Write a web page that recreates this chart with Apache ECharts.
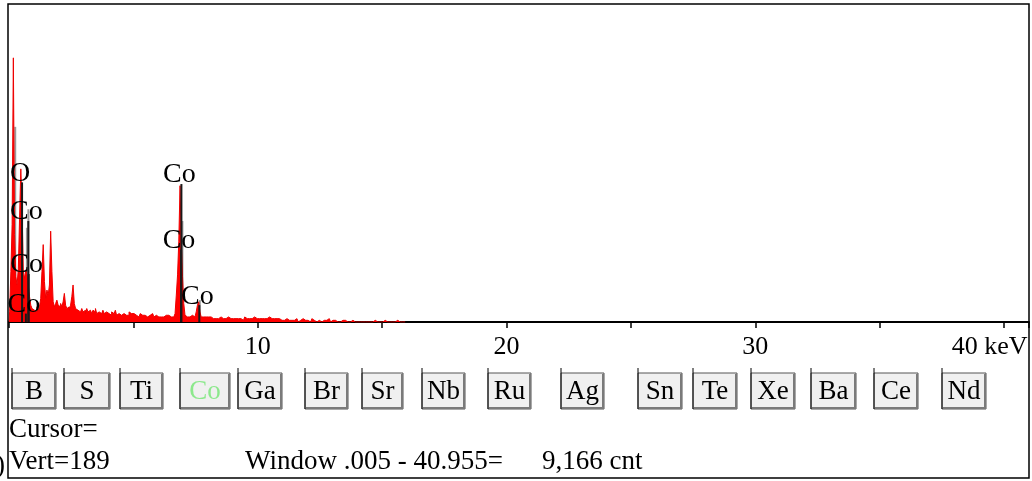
<!DOCTYPE html>
<html>
<head>
<meta charset="utf-8">
<script src="https://cdn.jsdelivr.net/npm/echarts@6/dist/echarts.min.js"></script>
<style>
html,body{margin:0;padding:0;background:#fff;}
#chart{width:1032px;height:481px;}
</style>
</head>
<body>
<div id="chart"></div>
<script>
// ---- spectrum: counts per 0.05 keV channel, starting at 0 keV ----
const channelKeV = 0.05;
const counts = [
  // 0.00 - 0.95
  0,6,30,58,157,52,27,22,32,62,91,68,30,26,31,28,22,15,10,8,
  // 1.00 - 1.95
  7,8,6,9,7,9,14,30,46,24,14,19,16,22,54,30,12,9,11,13,
  // 2.00 - 2.95
  10,9,11,9,12,17,10,8,9,7,10,15,22,11,8,7,8,6,7,8,
  // 3.00 - 3.95
  6,7,5,8,6,7,6,5,7,6,8,5,6,7,5,6,7,5,6,5,
  // 4.00 - 4.95
  5,6,4,6,5,5,7,4,5,6,4,5,5,6,4,5,4,6,5,4,
  // 5.00 - 5.95
  5,4,4,5,3,4,5,4,3,4,5,3,4,4,3,5,4,3,4,4,
  // 6.00 - 6.95
  3,4,3,4,3,3,4,3,4,3,3,4,3,4,5,16,28,48,81,48,
  // 7.00 - 7.95
  27,11,4,3,4,3,3,4,3,3,4,6,10,12,6,3,3,2,3,2,
  // 8.00 - 8.95
  3,2,3,2,2,3,2,3,2,2,3,2,2,3,2,2,3,2,2,3,
  // 9.00 - 9.95
  2,3,2,2,2,3,2,2,1,2,3,2,2,2,1,2,2,3,2,2,
  // 10.00 - 10.95
  2,2,3,2,2,2,1,2,2,3,2,2,1,2,2,2,1,2,2,1,
  // 11.00 - 11.95
  2,1,2,2,1,1,2,1,0,1,1,2,1,0,1,1,2,1,1,0,
  // 12.00 - 12.95
  1,1,0,1,2,1,1,0,1,1,1,0,1,1,0,1,1,2,1,0,
  // 13.00 - 13.95
  1,0,1,1,0,1,0,0,1,0,1,0,0,1,0,0,1,0,0,0,
  // 14.00 - 14.95
  0,1,0,0,0,1,0,0,0,1,0,0,0,0,1,0,0,0,0,0,
  // 15.00 - 15.95
  0,0,1,0,0,0,0,1,0,0,0,0,1,0,0,0,0,0,0,0
];

// ---- grey overlay spikes ----
const overlayKeV = [0.25, 0.72, 0.78, 6.97, 7.67];
const overlayCnt = [116, 56, 67, 60, 13];

// ---- element marker lines ----
const markerKeV  = [0.525, 0.776, 0.791, 0.678, 6.930, 6.915, 7.649];
const markerCnt  = [83, 60, 28.5, 5, 82, 43, 10];
const markerText = ['O', 'Co', 'Co', 'Co', 'Co', 'Co', 'Co'];

// ---- axis ----
const xMin = 0, xMax = 41, xStep = 5;
const yMax = 189;
const tickValues = [10, 20, 30, 40];
const tickText   = ['10', '20', '30', '40 keV'];

// ---- element buttons ----
const buttons = ['B','S','Ti','Co','Ga','Br','Sr','Nb','Ru','Ag','Sn','Te','Xe','Ba','Ce','Nd'];
const activeButton = 'Co';
const buttonLeft  = [12,64,120,180,238,305,362,422,488,561,638,693,751,811,874,942];
const buttonRight = [56,110,163,230,282,348,403,465,531,604,682,737,795,856,918,986];

// ---- status texts ----
const statusCursor = 'Cursor=';
const statusVert = 'Vert=189';
const statusWindow = 'Window .005 - 40.955=';
const statusCount = '9,166 cnt';

const FONT = '"Liberation Serif", "Times New Roman", serif';

const specData = counts.map((c, i) => [+(i * channelKeV).toFixed(3), c]);
const overlayData = overlayKeV.map((k, i) => [k, overlayCnt[i]]);
const markerData = markerKeV.map((k, i) => [k, markerCnt[i]]);

const graphics = [];
// frame
graphics.push({type:'rect', z:100, shape:{x:8, y:4, width:1021, height:474},
  style:{fill:'none', stroke:'#000', lineWidth:1.5}, silent:true});
// buttons
buttons.forEach((b, i) => {
  const x0 = buttonLeft[i], x1 = buttonRight[i];
  const top = 373, h = 36;
  graphics.push({type:'rect', shape:{x:x0, y:top, width:x1 - x0, height:h},
    style:{fill:'#f0f0f0', stroke:'#555', lineWidth:1}});
  graphics.push({type:'polyline', shape:{points:[[x1-1, top+1],[x1-1, top+h-1],[x0+1, top+h-1]]},
    style:{stroke:'#7a7a7a', lineWidth:2, fill:null}});
  graphics.push({type:'line', shape:{x1:x0, y1:top-5, x2:x0, y2:top+h},
    style:{stroke:'#000', lineWidth:1}});
  graphics.push({type:'text', x:(x0 + x1) / 2, y:top + h / 2 + 1,
    style:{text:b, font:'27px ' + FONT, fill: b === activeButton ? '#8ce88c' : '#000',
      align:'center', verticalAlign:'middle'}});
});
// status lines
graphics.push({type:'text', x:9, y:430, style:{text:statusCursor, font:'27px ' + FONT, fill:'#000', verticalAlign:'middle'}});
graphics.push({type:'text', x:9, y:462, style:{text:statusVert, font:'27px ' + FONT, fill:'#000', verticalAlign:'middle'}});
graphics.push({type:'text', x:245, y:462, style:{text:statusWindow, font:'27px ' + FONT, fill:'#000', verticalAlign:'middle'}});
graphics.push({type:'text', x:542, y:462, style:{text:statusCount, font:'27px ' + FONT, fill:'#000', verticalAlign:'middle'}});
graphics.push({type:'text', x:-4, y:466, style:{text:')', font:'27px ' + FONT, fill:'#000', verticalAlign:'middle'}});

const chart = echarts.init(document.getElementById('chart'), null, {renderer:'canvas'});
chart.setOption({
  animation:false,
  backgroundColor:'#fff',
  grid:{left:9, right:3, top:4, bottom:159},
  xAxis:{
    type:'value', min:xMin, max:xMax, interval:xStep,
    splitLine:{show:false},
    axisLine:{onZero:false, lineStyle:{color:'#000', width:2}},
    axisTick:{length:6, lineStyle:{color:'#000', width:1.5}},
    axisLabel:{
      margin:12, color:'#000', fontFamily:FONT, fontSize:26,
      showMinLabel:true, showMaxLabel:true,
      formatter:(v) => {
        const idx = tickValues.indexOf(v);
        if (idx < 0) return '';
        return idx === tickValues.length - 1 ? '{k|' + tickText[idx] + '}' : tickText[idx];
      },
      rich:{k:{fontFamily:FONT, fontSize:26, color:'#000', padding:[0,29,0,0]}}
    }
  },
  yAxis:{type:'value', min:0, max:yMax, show:false, splitLine:{show:false}},
  graphic:graphics,
  series:[
    {
      type:'custom', name:'overlay', z:1, data:overlayData,
      renderItem:(params, api) => {
        const p0 = api.coord([api.value(0), 0]);
        const p1 = api.coord([api.value(0), api.value(1)]);
        return {type:'line', shape:{x1:p0[0], y1:p0[1], x2:p1[0], y2:p1[1]},
          style:{stroke:'#9a9a9a', lineWidth:2}};
      }
    },
    {
      type:'line', name:'spectrum', z:2, data:specData, step:'middle',
      showSymbol:false, symbol:'none',
      lineStyle:{color:'#ee0000', width:1},
      areaStyle:{color:'#ff0000', opacity:1}
    },
    {
      type:'custom', name:'markers', z:3, data:markerData,
      renderItem:(params, api) => {
        const p0 = api.coord([api.value(0), 0]);
        const p1 = api.coord([api.value(0), api.value(1)]);
        return {type:'group', children:[
          {type:'line', shape:{x1:p0[0], y1:p0[1], x2:p1[0], y2:p1[1]},
            style:{stroke:'#1a1a1a', lineWidth:2}},
          {type:'text', x:p1[0] - 2, y:p1[1] + 5,
            style:{text:markerText[params.dataIndex], font:'28px ' + FONT, fill:'#000',
              align:'center', verticalAlign:'bottom'}}
        ]};
      }
    }
  ]
});
</script>
</body>
</html>
